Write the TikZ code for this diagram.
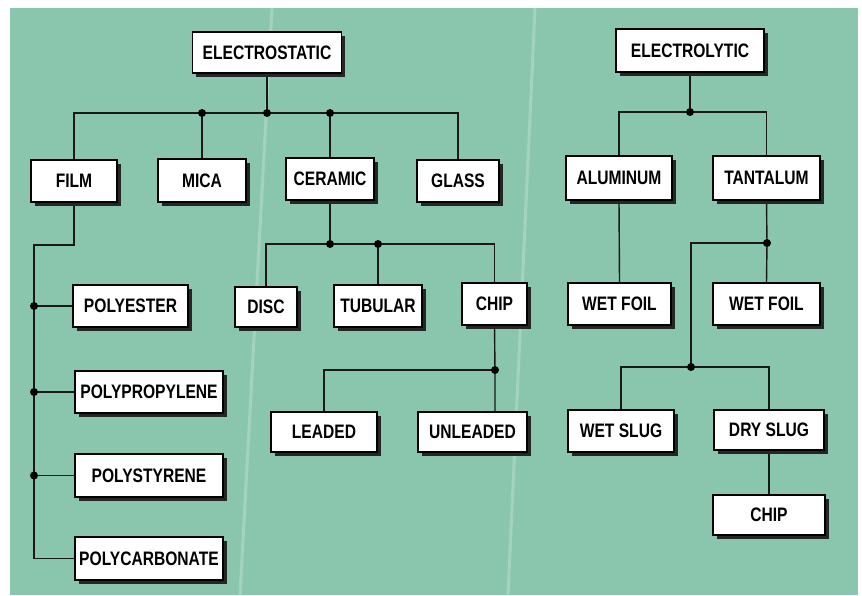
\documentclass[tikz,border=0pt]{standalone}
\usepackage{fontspec}
\newfontfamily\lbl{Liberation Sans Bold}[FakeStretch=0.8]
\pgfdeclarelayer{background}
\pgfsetlayers{background,main}
\definecolor{teal1}{HTML}{8AC6AE}
\tikzset{
  box/.style={draw=black, fill=white, line width=1.3pt, inner sep=0pt,
    font=\lbl\fontsize{19.5}{21}\selectfont,
    preaction={draw=none, fill=black!85, transform canvas={shift={(3.5pt,-3.5pt)}}}},
  link/.style={line width=1.4pt, draw=black!90},
  dot/.style={circle, fill=black, inner sep=0pt, minimum size=8pt},
  fold/.style={white, opacity=0.22, line width=3pt}
}
\begin{document}
\begin{tikzpicture}[x=1pt,y=-1pt]
\useasboundingbox (0,0) rectangle (862,595);

% nodes
\node[box, minimum width=149pt, minimum height=41pt] (es) at (267,52.5) {ELECTROSTATIC};
\node[box, minimum width=86pt, minimum height=42pt] (film) at (74,181) {FILM};
\node[box, minimum width=88pt, minimum height=43pt] (mica) at (202,180.5) {MICA};
\node[box, minimum width=88pt, minimum height=42pt] (ceramic) at (330,179) {CERAMIC};
\node[box, minimum width=82pt, minimum height=42pt] (glass) at (458,181) {GLASS};

\node[box, minimum width=148pt, minimum height=43pt] (el) at (690,50.5) {ELECTROLYTIC};
\node[box, minimum width=106pt, minimum height=44pt] (alu) at (619,178) {ALUMINUM};
\node[box, minimum width=107pt, minimum height=44pt] (tan) at (766.5,178) {TANTALUM};
\node[box, minimum width=103pt, minimum height=42pt] (wf1) at (619.5,304) {WET FOIL};
\node[box, minimum width=107pt, minimum height=42pt] (wf2) at (766.5,304) {WET FOIL};

\node[box, minimum width=62pt, minimum height=40pt] (disc) at (266,307) {DISC};
\node[box, minimum width=88pt, minimum height=42pt] (tubular) at (378,306) {TUBULAR};
\node[box, minimum width=65pt, minimum height=42pt] (chip1) at (494.5,304) {CHIP};
\node[box, minimum width=106pt, minimum height=40pt] (leaded) at (324,432) {LEADED};
\node[box, minimum width=109pt, minimum height=40pt] (unleaded) at (472.5,432) {UNLEADED};

\node[box, minimum width=106pt, minimum height=42pt] (wetslug) at (621,431) {WET SLUG};
\node[box, minimum width=110pt, minimum height=40pt] (dryslug) at (769,430) {DRY SLUG};
\node[box, minimum width=112pt, minimum height=40pt] (chip2) at (769,515) {CHIP};

\node[box, minimum width=115pt, minimum height=42pt] (polyester) at (130.5,306) {POLYESTER};
\node[box, minimum width=148pt, minimum height=42pt] (polyprop) at (149,392) {POLYPROPYLENE};
\node[box, minimum width=148pt, minimum height=43pt] (polysty) at (149,475.5) {POLYSTYRENE};
\node[box, minimum width=148pt, minimum height=43pt] (polycarb) at (149,558.5) {POLYCARBONATE};

% junction coordinates
\coordinate (j0) at (267,113);
\coordinate (jm) at (202,113);
\coordinate (jc0) at (330,113);
\coordinate (jc) at (330,244);
\coordinate (jt) at (378,244);
\coordinate (jch) at (495,370);
\coordinate (fk) at (74,245);
\coordinate (fb) at (34,245);
\coordinate (jE) at (690,112);
\coordinate (jta) at (767,243);
\coordinate (jtb) at (691,243);
\coordinate (js) at (691,367);

\begin{pgfonlayer}{background}
\fill[white] (0,0) rectangle (862,595);
\fill[teal1] (10,8) rectangle (858,595);
\draw[fold] (272,8) -- (240,595);
\draw[fold] (535,8) -- (508,595);
% electrostatic
\draw[link] (es.south) -- (j0);
\draw[link] (film.north) |- (j0) -| (glass.north);
\draw[link] (jm) -- (mica.north);
\draw[link] (jc0) -- (ceramic.north);
% film
\draw[link] (film.south) -- (fk) -- (fb) |- (polycarb.west);
\draw[link] (fb |- polyester.west) -- (polyester.west);
\draw[link] (fb |- polyprop.west) -- (polyprop.west);
\draw[link] (fb |- polysty.west) -- (polysty.west);
% ceramic
\draw[link] (ceramic.south) -- (jc);
\draw[link] (disc.north) |- (jc) -| (chip1.north);
\draw[link] (jt) -- (tubular.north);
\draw[link] (chip1.south) -- (jch) -- (jch |- unleaded.north);
\draw[link] (jch) -| (leaded.north);
% electrolytic
\draw[link] (el.south) -- (jE);
\draw[link] (alu.north) |- (jE) -| (tan.north);
\draw[link] (alu.south) -- (wf1.north);
\draw[link] (tan.south) -- (jta) -- (wf2.north);
\draw[link] (jta) -- (jtb) -- (js);
\draw[link] (wetslug.north) |- (js) -| (dryslug.north);
\draw[link] (dryslug.south) -- (chip2.north);
\end{pgfonlayer}

% dots
\node[dot] (d1) at (j0) {};
\node[dot] (d2) at (jm) {};
\node[dot] (d3) at (jc0) {};
\node[dot] (d4) at (jc) {};
\node[dot] (d5) at (jt) {};
\node[dot] (d6) at (jch) {};
\node[dot] (d7) at (fb |- polyester.west) {};
\node[dot] (d8) at (fb |- polyprop.west) {};
\node[dot] (d9) at (fb |- polysty.west) {};
\node[dot] (d10) at (jE) {};
\node[dot] (d11) at (jta) {};
\node[dot] (d12) at (js) {};
\end{tikzpicture}
\end{document}
